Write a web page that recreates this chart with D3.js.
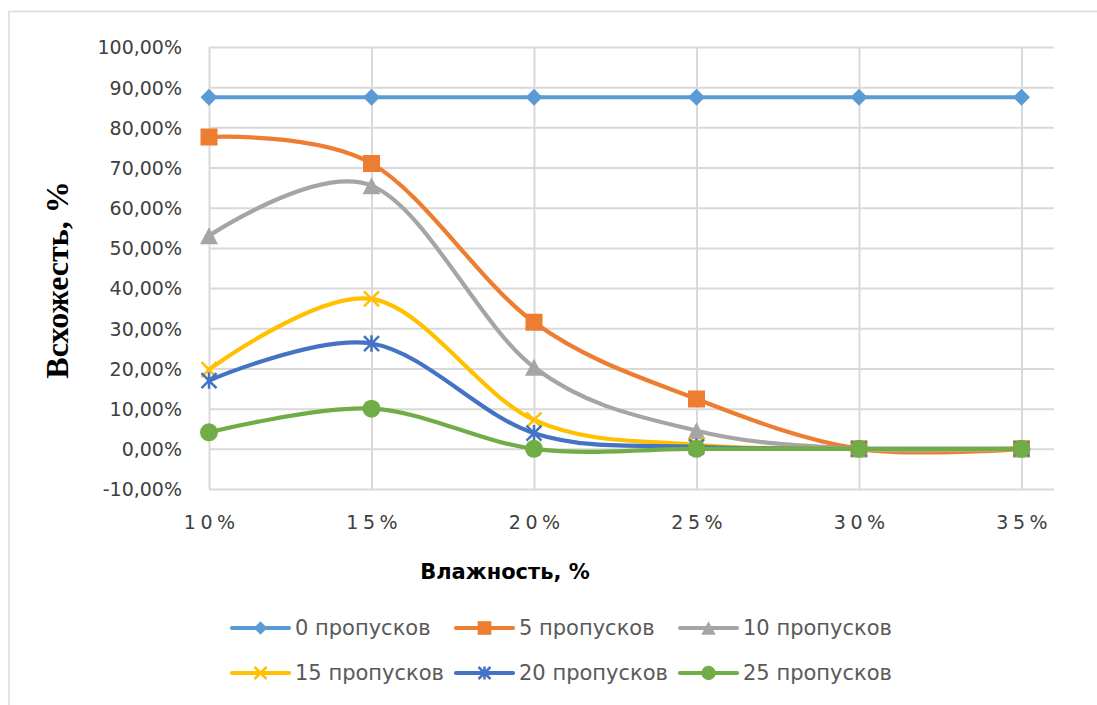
<!DOCTYPE html>
<html>
<head>
<meta charset="utf-8">
<script src="https://cdn.jsdelivr.net/npm/d3@7"></script>
<style>
  html, body { margin: 0; padding: 0; background: #ffffff; }
  svg { display: block; }
</style>
</head>
<body>
<svg id="chart" width="1097" height="705"></svg>
<script>
// Moisture levels (x) and their labels
const moisture = [10, 15, 20, 25, 30, 35];
const moistureLabels = ["10%", "15%", "20%", "25%", "30%", "35%"];

// Germination, % for each number of skipped passes
const seriesNames = ["0 пропусков", "5 пропусков", "10 пропусков", "15 пропусков", "20 пропусков", "25 пропусков"];
const skip0  = [87.5, 87.5, 87.5, 87.5, 87.5, 87.5];
const skip5  = [77.6, 71.0, 31.5, 12.4, 0, 0];
const skip10 = [53.0, 65.5, 20.3, 4.5, 0, 0];
const skip15 = [19.7, 37.3, 7.2, 1.0, 0, 0];
const skip20 = [17.0, 26.2, 3.9, 0.5, 0, 0];
const skip25 = [4.1, 10.0, 0, 0, 0, 0];

// Value axis ticks
const yTicks = [-10, 0, 10, 20, 30, 40, 50, 60, 70, 80, 90, 100];

const seriesValues = [skip0, skip5, skip10, skip15, skip20, skip25];
const colors = ["#5B9BD5", "#ED7D31", "#A5A5A5", "#FFC000", "#4472C4", "#70AD47"];
const markerKinds = ["diamond", "square", "triangle", "x", "star", "circle"];

const svg = d3.select("#chart");

// Outer chart frame
svg.append("rect")
  .attr("x", 9).attr("y", 11.5)
  .attr("width", 1200).attr("height", 1000)
  .attr("fill", "none").attr("stroke", "#d9d9d9").attr("stroke-width", 1.5);

const plot = { left: 209, right: 1054, top: 47, bottom: 489 };

const x = d3.scaleLinear().domain([10, 36]).range([plot.left, plot.right]);
const y = d3.scaleLinear().domain([-10, 100]).range([plot.bottom, plot.top]);

// Horizontal gridlines
svg.append("g")
  .attr("transform", `translate(${plot.left},0)`)
  .call(d3.axisLeft(y).tickValues(yTicks).tickSize(-(plot.right - plot.left)).tickFormat(""))
  .call(g => g.select(".domain").remove())
  .call(g => g.selectAll("line").attr("stroke", "#d9d9d9").attr("stroke-width", 2));

// Vertical gridlines at each moisture level
svg.append("g")
  .attr("transform", `translate(0,${plot.bottom})`)
  .call(d3.axisBottom(x).tickValues(moisture).tickSize(-(plot.bottom - plot.top)).tickFormat(""))
  .call(g => g.select(".domain").remove())
  .call(g => g.selectAll("line").attr("stroke", "#d9d9d9").attr("stroke-width", 2));

// Y tick labels
svg.append("g")
  .attr("transform", `translate(182,0)`)
  .call(d3.axisLeft(y).tickValues(yTicks).tickSize(0).tickPadding(0)
    .tickFormat(d => d.toFixed(2).replace(".", ",") + "%"))
  .call(g => g.select(".domain").remove())
  .call(g => g.selectAll("text")
    .attr("font-family", "DejaVu Sans, sans-serif")
    .attr("font-size", 19)
    .attr("fill", "#404040")
    .attr("dy", "0.36em")
    .attr("x", 0));

// X tick labels
svg.append("g")
  .attr("transform", `translate(0,${plot.bottom})`)
  .call(d3.axisBottom(x).tickValues(moisture).tickSize(0)
    .tickFormat((d, i) => moistureLabels[i]))
  .call(g => g.select(".domain").remove())
  .call(g => g.selectAll("text")
    .attr("font-family", "DejaVu Sans, sans-serif")
    .attr("font-size", 19)
    .attr("fill", "#404040")
    .attr("letter-spacing", "4.5px")
    .attr("x", 2.2)
    .attr("y", 40)
    .attr("dy", 0));

// Axis titles
svg.append("text")
  .attr("x", 505).attr("y", 579)
  .attr("text-anchor", "middle")
  .attr("font-family", "DejaVu Sans, sans-serif")
  .attr("font-weight", "bold")
  .attr("font-size", 21)
  .attr("fill", "#000")
  .text("Влажность, %");

svg.append("text")
  .attr("transform", "translate(68,280) rotate(-90)")
  .attr("text-anchor", "middle")
  .attr("font-family", "Liberation Serif, Times New Roman, serif")
  .attr("font-weight", "bold")
  .attr("font-size", 32)
  .attr("fill", "#000")
  .text("Всхожесть, %");

// Marker drawing
function drawMarker(g, kind, cx, cy, color, s) {
  if (kind === "diamond") {
    const h = 8.5 * s;
    g.append("path")
      .attr("d", `M${cx},${cy - h}L${cx + h},${cy}L${cx},${cy + h}L${cx - h},${cy}Z`)
      .attr("fill", color);
  } else if (kind === "square") {
    const h = 8.5 * s;
    g.append("rect")
      .attr("x", cx - h).attr("y", cy - h)
      .attr("width", 2 * h).attr("height", 2 * h)
      .attr("fill", color);
  } else if (kind === "triangle") {
    const w = 9 * s, h = 8.5 * s;
    g.append("path")
      .attr("d", `M${cx},${cy - h}L${cx + w},${cy + h}L${cx - w},${cy + h}Z`)
      .attr("fill", color);
  } else if (kind === "x") {
    const h = 7.5 * s;
    g.append("path")
      .attr("d", `M${cx - h},${cy - h}L${cx + h},${cy + h}M${cx + h},${cy - h}L${cx - h},${cy + h}`)
      .attr("stroke", color).attr("stroke-width", 2.5).attr("fill", "none");
  } else if (kind === "star") {
    const h = 7.5 * s;
    g.append("path")
      .attr("d", `M${cx - h},${cy - h}L${cx + h},${cy + h}M${cx + h},${cy - h}L${cx - h},${cy + h}M${cx},${cy - h * 1.1}L${cx},${cy + h * 1.1}`)
      .attr("stroke", color).attr("stroke-width", 2.5).attr("fill", "none");
  } else if (kind === "circle") {
    g.append("circle")
      .attr("cx", cx).attr("cy", cy).attr("r", 9 * s)
      .attr("fill", color);
  }
}

// Smoothed series lines with markers
const line = d3.line()
  .x((d, i) => x(moisture[i]))
  .y(d => y(d))
  .curve(d3.curveCardinal.tension(0));

seriesValues.forEach((vals, si) => {
  const g = svg.append("g");
  g.append("path")
    .datum(vals)
    .attr("d", line)
    .attr("fill", "none")
    .attr("stroke", colors[si])
    .attr("stroke-width", 4.2)
    .attr("stroke-linejoin", "round")
    .attr("stroke-linecap", "round");
  vals.forEach((v, i) => drawMarker(g, markerKinds[si], x(moisture[i]), y(v), colors[si], 1));
});

// Legend
const legendCols = [232, 456, 680];
const legendRows = [628, 673];
seriesNames.forEach((name, si) => {
  const lx = legendCols[si % 3];
  const ly = legendRows[Math.floor(si / 3)];
  const g = svg.append("g");
  g.append("line")
    .attr("x1", lx).attr("x2", lx + 57)
    .attr("y1", ly).attr("y2", ly)
    .attr("stroke", colors[si]).attr("stroke-width", 4.2)
    .attr("stroke-linecap", "round");
  drawMarker(g, markerKinds[si], lx + 28.5, ly, colors[si], 0.8);
  g.append("text")
    .attr("x", lx + 63).attr("y", ly + 7)
    .attr("font-family", "DejaVu Sans, sans-serif")
    .attr("font-size", 21)
    .attr("fill", "#595959")
    .text(name);
});
</script>
</body>
</html>
